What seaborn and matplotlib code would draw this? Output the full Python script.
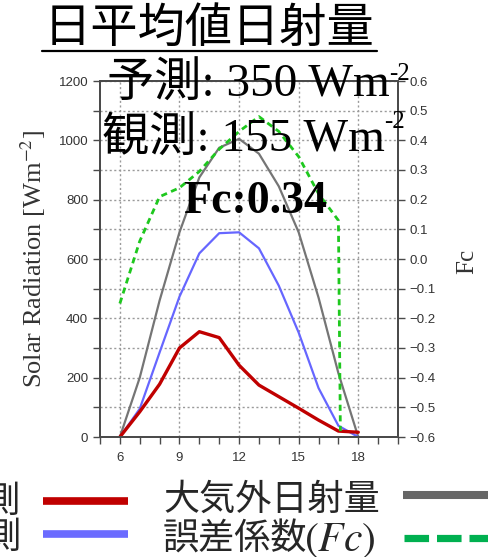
import matplotlib
matplotlib.use("Agg")
import matplotlib.pyplot as plt
from matplotlib.lines import Line2D
from matplotlib.ticker import MultipleLocator, FixedLocator, FuncFormatter
import seaborn as sns

# Hourly daily-mean solar radiation (W m^-2) and error coefficient Fc
hours = [6, 7, 8, 9, 10, 11, 12, 13, 14, 15, 16, 17, 18]
observed = [0, 85, 178, 300, 355, 335, 242, 175, 136, 97, 57, 20, 16]
predicted = [0, 95, 285, 473, 619, 687, 690, 636, 510, 352, 165, 38, 0]
extraterrestrial = [0, 200, 460, 690, 875, 975, 1005, 955, 845, 690, 470, 215, 0]
fc_hours = [6, 7, 8, 9, 10, 11, 12, 13, 14, 15, 16, 17, 17.1]
fc_values = [-0.15, 0.06, 0.21, 0.24, 0.295, 0.37, 0.43, 0.48, 0.43, 0.345, 0.22, 0.13, -0.58]

x_major = [6, 9, 12, 15, 18]

title = "日平均値日射量"
pred_text = "予測: 350 Wm"
obs_text = "観測: 155 Wm"
unit_sup = "-2"
fc_text = "Fc:0.34"
legend_obs = "観測"
legend_pred = "予測"
legend_extra = "大気外日射量"
legend_fc = "誤差係数"

sns.set_style("ticks")
plt.rcParams["font.family"] = ["Liberation Sans", "Noto Sans CJK JP"]
plt.rcParams["mathtext.fontset"] = "stix"

W, H = 489, 557
fig = plt.figure(figsize=(W / 100, H / 100), dpi=100)


def fx(x):
    return x / W


def fy(y):
    return 1 - y / H


ax = fig.add_axes([fx(100), fy(437), fx(398) - fx(100), fy(81) - fy(437)])
ax2 = ax.twinx()
ax2.patch.set_visible(False)

sns.lineplot(x=hours, y=extraterrestrial, ax=ax, color="#757575", linewidth=1.6, errorbar=None)
sns.lineplot(x=hours, y=predicted, ax=ax, color="#6666ff", linewidth=1.6, errorbar=None)
sns.lineplot(x=hours, y=observed, ax=ax, color="#c00000", linewidth=2.4, errorbar=None)
sns.lineplot(x=fc_hours, y=fc_values, ax=ax2, color="#1ec81e", linewidth=2.0,
             linestyle=(0, (2.2, 1.6)), errorbar=None, sort=False)

spine_col = "#4a4a4a"
ax.set_xlim(5, 20)
ax.set_ylim(0, 1200)
ax2.set_ylim(-0.6, 0.6)
ax.xaxis.set_major_locator(FixedLocator(x_major))
ax.xaxis.set_minor_locator(MultipleLocator(1))
ax.yaxis.set_major_locator(MultipleLocator(200))
ax.yaxis.set_minor_locator(MultipleLocator(100))
ax2.yaxis.set_major_locator(MultipleLocator(0.1))


def fc_fmt(v, pos):
    s = f"{v:.1f}"
    if s == "-0.0":
        s = "0.0"
    return s.replace("-", "\u2212")


ax2.yaxis.set_major_formatter(FuncFormatter(fc_fmt))

for a in (ax, ax2):
    a.tick_params(which="both", direction="out", length=5, width=1,
                  color=spine_col, labelcolor="#333333", labelsize=9.5)
    for s in a.spines.values():
        s.set_visible(True)
        s.set_color(spine_col)
        s.set_linewidth(1.3)
    a.set_xlabel("")
    a.set_ylabel("")
ax.tick_params(axis="x", pad=6)

grid_kw = dict(color="#9a9a9a", linewidth=1.0, linestyle=(0, (1.5, 1.8)))
ax.yaxis.grid(True, which="both", **grid_kw)
ax.xaxis.grid(True, which="major", **grid_kw)
ax.set_axisbelow(True)

serif = "Liberation Serif"
fig.text(fx(33), fy(259), "Solar Radiation [Wm$^{-2}$]", rotation=90,
         family=serif, size=19, ha="center", va="center", color="#333333")
fig.text(fx(467), fy(261), "Fc", rotation=90, family=serif, size=18,
         ha="center", va="center", color="#333333")

# Title with underline
fig.text(fx(209), fy(29), title, family="Noto Sans CJK JP", size=34,
         ha="center", va="center", color="black")
fig.add_artist(Line2D([fx(42), fx(377)], [fy(51), fy(51)], color="black", lw=1.6))

# Summary annotations (value text followed by a raised unit exponent)
mixed = [serif, "Noto Sans CJK JP"]
t_pred = fig.text(fx(107), fy(97), pred_text, family=mixed, size=34, va="baseline", color="black")
t_obs = fig.text(fx(102), fy(152), obs_text, family=mixed, size=34, va="baseline", color="black")
fig.text(fx(183), fy(213), fc_text, family=serif, size=33, weight="bold",
         va="baseline", color="black")

fig.canvas.draw()
renderer = fig.canvas.get_renderer()
for t, base in ((t_pred, 80), (t_obs, 128)):
    x1 = t.get_window_extent(renderer).x1
    fig.text(x1 / W - 1.0 / W, fy(base), unit_sup, family=serif, size=18,
             va="baseline", color="black")

# Legend drawn below the plot
cjk = "Noto Sans CJK JP"
fig.text(fx(21), fy(501), legend_obs, family=cjk, size=26, ha="right", va="center")
fig.text(fx(21), fy(538), legend_pred, family=cjk, size=26, ha="right", va="center")
fig.text(fx(163), fy(500), legend_extra, family=cjk, size=26, ha="left", va="center")
fig.text(fx(163), fy(540), legend_fc, family=cjk, size=26, ha="left", va="center")
fig.text(fx(304), fy(540), "$(Fc)$", size=30, ha="left", va="center")

fig.add_artist(Line2D([fx(43), fx(128)], [fy(501), fy(501)], color="#c00000", lw=5.5,
                      solid_capstyle="butt"))
fig.add_artist(Line2D([fx(43), fx(128)], [fy(534), fy(534)], color="#6b6bff", lw=5.5,
                      solid_capstyle="butt"))
fig.add_artist(Line2D([fx(403), fx(492)], [fy(495), fy(495)], color="#666666", lw=5.8,
                      solid_capstyle="butt"))
fig.add_artist(Line2D([fx(404), fx(492)], [fy(538), fy(538)], color="#00b050", lw=5.2,
                      dashes=(3.4, 1.1), dash_capstyle="butt"))

fig.savefig("out.png", dpi=100)
